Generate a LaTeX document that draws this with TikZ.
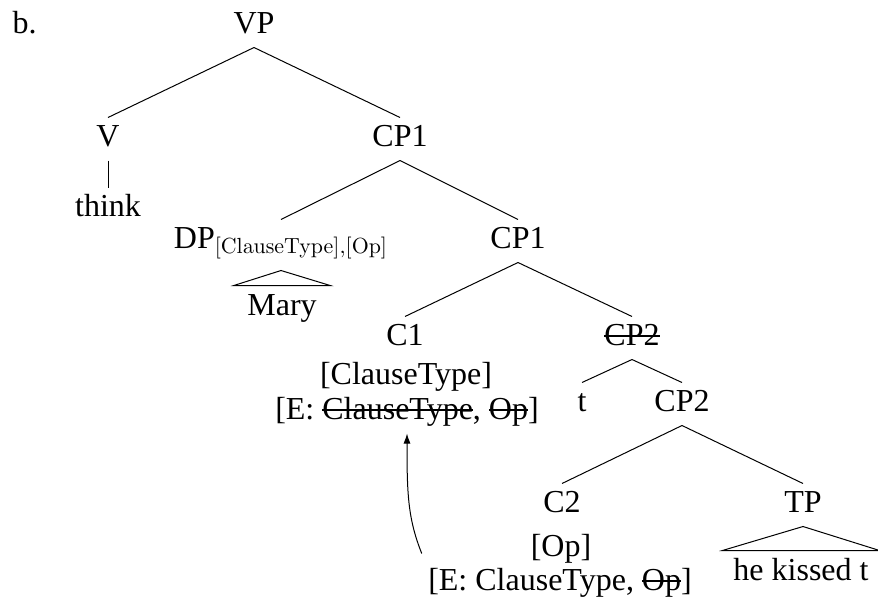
\documentclass[tikz,border=0pt]{standalone}
\usepackage[no-math]{fontspec}
\setmainfont{Liberation Serif}
\usetikzlibrary{arrows.meta,calc}
\newsavebox\mystrkbox
\newcommand{\mystrike}[1]{\sbox\mystrkbox{#1}\rlap{\rule[4pt]{\wd\mystrkbox}{0.9pt}}\usebox\mystrkbox}
\begin{document}
\begin{tikzpicture}[x=0.5pt,y=-0.5pt,
  font=\fontsize{16}{19}\selectfont,
  line width=0.5pt,
  lbl/.style={anchor=base, inner sep=3pt, text height=11pt, text depth=4pt},
  feat/.style={anchor=base, inner sep=3pt},
  leaf/.style={anchor=base, inner ysep=3.5pt, text height=11pt, text depth=4pt},
  mover/.style={-{Latex[length=5pt,width=3.5pt]}}]
\useasboundingbox (0,0) rectangle (878,596);

\node[feat, anchor=base west] (b) at (6,33) {b.};
\node[lbl] (VP) at (254,33) {VP};
\node[lbl] (V) at (108,146) {V};
\node[lbl] (CP1a) at (400,146) {CP1};
\node[lbl] (think) at (108,216) {think};
\node[lbl, text depth=8pt] (DP) at (281,248) {DP$_{\mathrm{[ClauseType],[Op]}}$};
\node[lbl] (CP1b) at (518,248) {CP1};
\node[leaf, inner xsep=6.5pt] (Mary) at (282,315) {Mary};
\node[lbl] (C1) at (405,345) {C1};
\node[feat] (CT1) at (406,384) {[ClauseType]};
\node[feat, text height=11pt, text depth=4pt] (E1) at (407,419) {[E: \mystrike{ClauseType}, \mystrike{Op}]};
\node[lbl] (CP2s) at (632,345) {\mystrike{CP2}};
\node[lbl] (t) at (582,411) {t};
\node[lbl] (CP2) at (682,411) {CP2};
\node[lbl] (C2) at (562,512) {C2};
\node[feat] (Op) at (561,556) {[Op]};
\node[feat, text height=11pt, text depth=4pt] (E2) at (560,590) {[E: ClauseType, \mystrike{Op}]};
\node[lbl] (TP) at (803,512) {TP};
\node[leaf, inner xsep=5.25pt] (hk) at (801,580) {he kissed t};

\draw (VP.south) -- (V.north);
\draw (VP.south) -- (CP1a.north);
\draw (V.south) -- (think.north);
\draw (CP1a.south) -- (DP.north);
\draw (CP1a.south) -- (CP1b.north);
\draw (DP.south) -- (Mary.north west) -- (Mary.north east) -- cycle;
\draw (CP1b.south) -- (C1.north);
\draw (CP1b.south) -- (CP2s.north);
\draw (CP2s.south) -- (t.north);
\draw (CP2s.south) -- (CP2.north);
\draw (CP2.south) -- (C2.north);
\draw (CP2.south) -- (TP.north);
\draw (TP.south) -- (hk.north west) -- (hk.north east) -- cycle;
\draw[mover] ([yshift=4pt]E2.north west) .. controls +(-14,-35) and +(0,60) .. (E1.south);
\end{tikzpicture}
\end{document}
